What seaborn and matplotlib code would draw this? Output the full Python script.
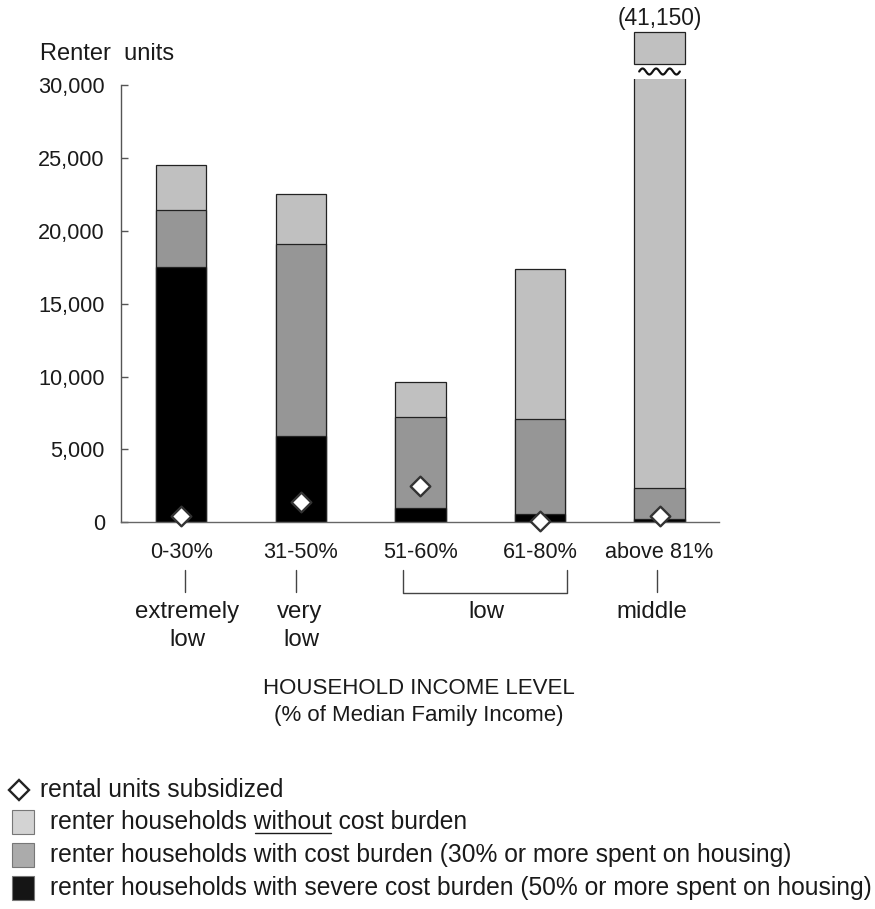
import numpy as np
import pandas as pd
import matplotlib
matplotlib.use("Agg")
import matplotlib.pyplot as plt
from matplotlib.patches import Rectangle
from matplotlib.lines import Line2D
import seaborn as sns

# Renter households by income band (% of median family income)
income_bands = ["0-30%", "31-50%", "51-60%", "61-80%", "above 81%"]
severe_burden = [17500, 5900, 950, 600, 200]
cost_burden = [3900, 13200, 6300, 6500, 2150]
no_burden = [3100, 3400, 2350, 10300, 38800]
subsidized = [400, 1400, 2500, 100, 400]
y_ticks = [0, 5000, 10000, 15000, 20000, 25000, 30000]
y_max_shown = 30000

LIGHT, MID, DARK = "#c0c0c0", "#969696", "#000000"
LEG_LIGHT, LEG_MID, LEG_DARK = "#d3d3d3", "#ababab", "#151515"
TXT = "#1a1a1a"
FS_TICK = 15.6
FS_GROUP = 17.3
FS_TITLE = 16.0
FS_LEG = 17.7

W, H = 875, 909
sns.set_theme(style="white")
plt.rcParams["font.family"] = ["Liberation Sans", "DejaVu Sans"]

fig = plt.figure(figsize=(W / 100, H / 100), dpi=100)


def fx(px):
    return px / W


def fy(py):
    return 1 - py / H


ax_top, ax_bot = 79.0, 522.3
ax = fig.add_axes([fx(121.5), fy(ax_bot), fx(719.3) - fx(121.5), fy(ax_top) - fy(ax_bot)])

df = pd.DataFrame({
    "band": income_bands,
    "severe": severe_burden,
    "cost": cost_burden,
    "none": no_burden,
    "subsidized": subsidized,
})
df["with_cost"] = df["severe"] + df["cost"]
df["total"] = df["with_cost"] + df["none"]

# Stacked bars: draw cumulative heights from the tallest layer down
for col, color in [("total", LIGHT), ("with_cost", MID), ("severe", DARK)]:
    sns.barplot(data=df, x="band", y=col, order=income_bands, color=color,
                saturation=1, width=0.42, errorbar=None, edgecolor="#222222",
                linewidth=0.9, ax=ax, zorder=2)

sns.stripplot(data=df, x="band", y="subsidized", order=income_bands, jitter=False,
              marker="D", size=10, color="white", edgecolor="#333333",
              linewidth=1.7, ax=ax, zorder=5, clip_on=False)

ax.set_xlim(-0.5, len(income_bands) - 0.5)
ax.set_ylim(0, 30410)
ax.set_xlabel("")
ax.set_ylabel("")

for side in ("top", "right"):
    ax.spines[side].set_visible(False)
ax.spines["left"].set_bounds(0, y_max_shown)
ax.spines["left"].set_color("#555555")
ax.spines["left"].set_linewidth(1.0)
ax.spines["bottom"].set_color("#666666")
ax.spines["bottom"].set_linewidth(1.0)

ax.set_yticks(y_ticks)
ax.set_yticklabels([f"{v:,}" for v in y_ticks])
ax.tick_params(axis="y", direction="in", length=4.7, width=1.0, color="#555555",
               pad=12, labelsize=FS_TICK, labelcolor=TXT, left=True)
ax.tick_params(axis="x", length=0, pad=14, labelsize=FS_TICK, labelcolor=TXT)

# Break marker for the bar that runs past the top of the scale
trans = ax.get_xaxis_transform()
ax_h = ax_bot - ax_top


def ay(py):
    return (ax_bot - py) / ax_h


i_big = len(income_bands) - 1
half_w = 0.21
ax.add_patch(Rectangle((i_big - half_w, ay(64)), 2 * half_w, ay(32) - ay(64),
                       transform=trans, facecolor=LIGHT, edgecolor="#222222",
                       linewidth=0.9, clip_on=False, zorder=3))
wx = np.linspace(i_big - 0.17, i_big + 0.17, 60)
wy = ay(71.5) + (3.0 / ax_h) * np.sin((wx - wx[0]) / (wx[-1] - wx[0]) * 3 * 2 * np.pi)
ax.plot(wx, wy, color="#111111", lw=1.6, transform=trans, clip_on=False, zorder=3)
ax.text(i_big, ay(18), f"({df['total'].iloc[-1]:,})", transform=trans,
        ha="center", va="center", fontsize=FS_TICK + 0.8, color=TXT, clip_on=False)

# Axis title
fig.text(fx(40), fy(54), "Renter  units", ha="left", va="center", fontsize=17, color=TXT)


def line(xs, ys, color="#444444", lw=1.0):
    fig.add_artist(Line2D([fx(x) for x in xs], [fy(y) for y in ys],
                          transform=fig.transFigure, color=color, lw=lw))


def label(x, y, s, ha="center", fs=FS_GROUP):
    fig.text(fx(x), fy(y), s, ha=ha, va="center", fontsize=fs, color=TXT)


# Income level groupings under the bands
line([185, 185], [570, 592])
line([296, 296], [570, 592])
line([657, 657], [570, 592])
line([403, 403, 567, 567], [570, 593, 593, 570])
label(187, 612, "extremely")
label(187, 640, "low")
label(300, 612, "very")
label(301, 640, "low")
label(486, 612, "low")
label(652, 612, "middle")

label(419, 689, "HOUSEHOLD INCOME LEVEL", fs=FS_TITLE)
label(419, 716, "(% of Median Family Income)", fs=FS_TITLE)

# Legend
fig.add_artist(Line2D([fx(18.5)], [fy(790)], transform=fig.transFigure, marker="D",
                      markersize=10.5, markerfacecolor="white", markeredgecolor="#222222",
                      markeredgewidth=1.7, linestyle="none"))
label(40, 790, "rental units subsidized", ha="left", fs=FS_LEG)

legend_rows = [
    (822, LEG_LIGHT, "renter households without cost burden"),
    (855, LEG_MID, "renter households with cost burden (30% or more spent on housing)"),
    (888, LEG_DARK, "renter households with severe cost burden (50% or more spent on housing)"),
]
for yc, col, txt in legend_rows:
    fig.add_artist(Rectangle((fx(12), fy(yc + 12)), fx(34) - fx(12), fy(yc - 12) - fy(yc + 12),
                             transform=fig.transFigure, facecolor=col, edgecolor="#777777",
                             linewidth=0.8))
    label(50, yc, txt, ha="left", fs=FS_LEG)

# Underline the word "without" in the first box legend entry
renderer = fig.canvas.get_renderer()
prefix = "renter households without"
probe_a = fig.text(fx(50), fy(822), prefix, fontsize=FS_LEG, va="center")
probe_b = fig.text(fx(50), fy(822), "without", fontsize=FS_LEG, va="center")
bb_a = probe_a.get_window_extent(renderer)
bb_b = probe_b.get_window_extent(renderer)
probe_a.remove()
probe_b.remove()
x_end = bb_a.x1
x_start = x_end - bb_b.width
uy = fy(822) - 10.5 / H
fig.add_artist(Line2D([x_start / W + 0.0012, x_end / W - 0.0005], [uy, uy],
                      transform=fig.transFigure, color=TXT, lw=1.0))

fig.savefig("out.png", dpi=100)
